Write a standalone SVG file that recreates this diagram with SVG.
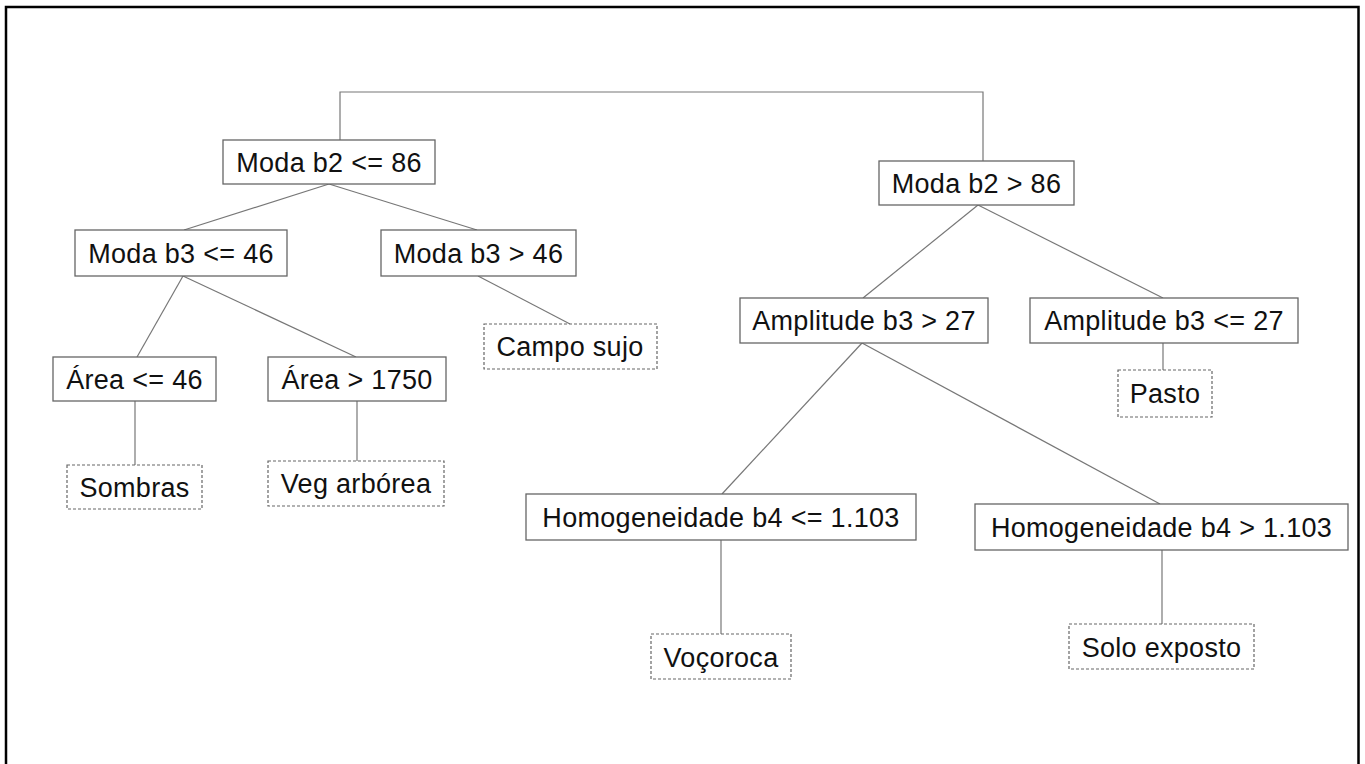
<svg xmlns="http://www.w3.org/2000/svg" width="1365" height="764" viewBox="0 0 1365 764">
<style>
.frame{fill:none;stroke:#000;stroke-width:2.5}
.n{fill:#fff;stroke:#666;stroke-width:1.3}
.leaf{fill:#fff;stroke:#666;stroke-width:1.2;stroke-dasharray:3 2}
.c{fill:none;stroke:#777;stroke-width:1.2}
text{font-family:"Liberation Sans",Arial,sans-serif;font-size:27px;fill:#111;text-anchor:middle;letter-spacing:0.3px}
</style>
<rect width="1365" height="764" fill="#fff"/>
<path class="frame" d="M6,770 V7 H1358.5 V770"/>
<g id="connectors">
<path class="c" d="M340,140 V92 H983 V161"/>
<line class="c" x1="329" y1="184" x2="184" y2="230"/>
<line class="c" x1="329" y1="184" x2="477" y2="230"/>
<line class="c" x1="183" y1="276" x2="137" y2="357"/>
<line class="c" x1="183" y1="276" x2="356" y2="357"/>
<line class="c" x1="478" y1="276" x2="570" y2="324"/>
<line class="c" x1="135" y1="401" x2="135" y2="465"/>
<line class="c" x1="357" y1="401" x2="357" y2="461"/>
<line class="c" x1="978" y1="205" x2="863" y2="298"/>
<line class="c" x1="978" y1="205" x2="1163" y2="298"/>
<line class="c" x1="1163" y1="343" x2="1163" y2="370"/>
<line class="c" x1="862" y1="343" x2="722" y2="494"/>
<line class="c" x1="862" y1="343" x2="1160" y2="504"/>
<line class="c" x1="721" y1="540" x2="721" y2="634"/>
<line class="c" x1="1162" y1="550" x2="1162" y2="624"/>
</g>
<g id="n-moda-b2-le"><rect class="n" x="223" y="140" width="212" height="44"/><text x="329" y="172">Moda b2 &lt;= 86</text></g>
<g id="n-moda-b2-gt"><rect class="n" x="879" y="161" width="195" height="44"/><text x="976.5" y="193">Moda b2 &gt; 86</text></g>
<g id="n-moda-b3-le"><rect class="n" x="75" y="230" width="212" height="46"/><text x="181" y="263">Moda b3 &lt;= 46</text></g>
<g id="n-moda-b3-gt"><rect class="n" x="381" y="230" width="195" height="46"/><text x="478.5" y="263">Moda b3 &gt; 46</text></g>
<g id="n-campo-sujo"><rect class="leaf" x="484" y="324" width="173" height="45"/><text x="570" y="356">Campo sujo</text></g>
<g id="n-area-le"><rect class="n" x="53" y="357" width="163" height="44"/><text x="134.5" y="389">Área &lt;= 46</text></g>
<g id="n-area-gt"><rect class="n" x="268" y="357" width="178" height="44"/><text x="357" y="389">Área &gt; 1750</text></g>
<g id="n-sombras"><rect class="leaf" x="67" y="465" width="135" height="44"/><text x="134.5" y="497">Sombras</text></g>
<g id="n-veg"><rect class="leaf" x="268" y="461" width="176" height="45"/><text x="356" y="493">Veg arbórea</text></g>
<g id="n-amp-gt"><rect class="n" x="740" y="298" width="248" height="45"/><text x="864" y="330">Amplitude b3 &gt; 27</text></g>
<g id="n-amp-le"><rect class="n" x="1030" y="298" width="268" height="45"/><text x="1164" y="330">Amplitude b3 &lt;= 27</text></g>
<g id="n-pasto"><rect class="leaf" x="1118" y="370" width="94" height="47"/><text x="1165" y="403">Pasto</text></g>
<g id="n-homog-le"><rect class="n" x="526" y="494" width="390" height="46"/><text x="721" y="527">Homogeneidade b4 &lt;= 1.103</text></g>
<g id="n-homog-gt"><rect class="n" x="975" y="504" width="373" height="46"/><text x="1161.5" y="537">Homogeneidade b4 &gt; 1.103</text></g>
<g id="n-vocoroca"><rect class="leaf" x="651" y="634" width="140" height="45"/><text x="721" y="667">Voçoroca</text></g>
<g id="n-solo"><rect class="leaf" x="1069" y="624" width="185" height="45"/><text x="1161.5" y="657">Solo exposto</text></g>
</svg>
